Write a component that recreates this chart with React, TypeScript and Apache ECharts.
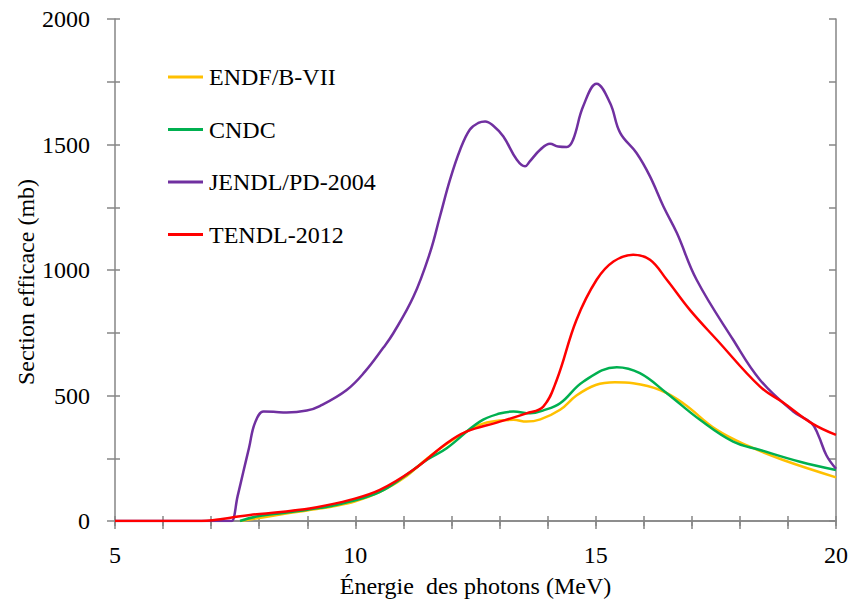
import React, { useEffect, useRef } from "react";
import * as echarts from "echarts";

const seriesNames = ["ENDF/B-VII", "CNDC", "JENDL/PD-2004", "TENDL-2012"];
const seriesColors = ["#FFC000", "#00B050", "#7030A0", "#FF0000"];

const endf: [number, number][] = [
  [7.6, 0], [8, 12], [8.5, 28], [9, 42], [9.5, 57], [10, 78], [10.5, 115], [11, 170],
  [11.5, 250], [12, 320], [12.59, 383], [13.0, 400], [13.29, 403], [13.56, 396], [13.85, 405],
  [14.26, 443], [14.6, 500], [15.0, 542], [15.4, 553], [15.78, 549], [16.34, 522], [16.82, 469],
  [17.52, 363], [18.21, 296], [18.9, 243], [20, 174],
];
const cndc: [number, number][] = [
  [7.6, 0], [8, 20], [8.5, 32], [9, 45], [9.5, 60], [9.89, 77], [10.5, 115], [11, 175],
  [11.5, 245], [11.9, 290], [12.59, 396], [13.0, 428], [13.29, 436], [13.64, 429], [13.9, 440],
  [14.26, 469], [14.74, 555], [15.44, 613], [15.92, 589], [16.48, 509], [17.17, 403],
  [17.86, 316], [18.42, 283], [19.25, 236], [20, 203],
];
const jendl: [number, number][] = [
  [5, 0], [7.38, 0], [7.43, 0], [7.55, 98], [7.67, 196], [7.79, 293], [7.91, 390], [8.09, 436],
  [8.3, 435], [8.57, 432], [8.99, 440], [9.26, 458], [9.82, 522], [10.2, 595], [10.58, 690],
  [10.79, 748], [11.21, 894], [11.55, 1067], [11.76, 1213], [11.97, 1360], [12.18, 1479],
  [12.38, 1559], [12.56, 1586], [12.7, 1592], [12.87, 1575], [13.08, 1532], [13.36, 1439],
  [13.53, 1413], [13.63, 1433], [13.85, 1480], [14.05, 1503], [14.22, 1492], [14.4, 1490],
  [14.53, 1519], [14.74, 1652], [15.02, 1742], [15.3, 1665], [15.51, 1546], [15.85, 1466],
  [16.13, 1373], [16.41, 1253], [16.69, 1147], [17.1, 961], [17.86, 722], [18.42, 562],
  [19.11, 436], [19.49, 390], [19.63, 343], [19.8, 262], [20, 208],
];
const tendl: [number, number][] = [
  [5, 0], [6.8, 0], [7.1, 5], [7.43, 14], [7.81, 24], [8.5, 37], [9.2, 55], [9.89, 84],
  [10.51, 124], [11.2, 203], [11.9, 310], [12.31, 356], [12.94, 392], [13.56, 429],
  [13.91, 456], [14.19, 562], [14.6, 801], [15.02, 961], [15.37, 1034], [15.78, 1061],
  [16.13, 1041], [16.48, 961], [16.96, 841], [17.52, 722], [18.42, 535], [18.9, 472],
  [19.49, 390], [20, 343],
];
const seriesData = [endf, cndc, jendl, tendl];

const xTickLabels = [5, 10, 15, 20];
const yTickLabels = [0, 500, 1000, 1500, 2000];

const FONT = "Liberation Serif, Times New Roman, serif";
const AXIS = "#868686";

export default function App() {
  const ref = useRef<HTMLDivElement>(null);
  useEffect(() => {
    if (!ref.current) return;
    const chart = echarts.init(ref.current, undefined, { renderer: "svg" });
    const base = { type: "value" as const, min: 5, max: 20, interval: 1, gridIndex: 0 };
    const ybase = { type: "value" as const, min: 0, max: 2000, interval: 250, gridIndex: 0 };
    chart.setOption({
      animation: false,
      backgroundColor: "#ffffff",
      grid: { left: 115, right: 14, top: 19, bottom: 78, containLabel: false, outerBoundsMode: "none" },
      legend: {
        orient: "vertical",
        left: 168,
        top: 65,
        padding: 0,
        itemWidth: 35,
        itemHeight: 3,
        itemGap: 28.5,
        icon: "rect",
        data: seriesNames,
        textStyle: { fontFamily: FONT, fontSize: 24, color: "#000", lineHeight: 24, padding: [0, 0, 0, 1] },
      },
      xAxis: [
        {
          ...base,
          position: "bottom",
          axisLine: { show: true, lineStyle: { color: AXIS, width: 1.5 } },
          axisTick: { show: true, inside: false, length: 8, lineStyle: { color: AXIS, width: 1.5 } },
          axisLabel: {
            margin: 22,
            fontFamily: FONT,
            fontSize: 24,
            color: "#000",
            formatter: (v: number) => (xTickLabels.includes(v) ? String(v) : ""),
          },
          splitLine: { show: false },
          name: "Énergie  des photons (MeV)",
          nameLocation: "middle",
          nameGap: 53,
          nameTextStyle: { fontFamily: FONT, fontSize: 24, color: "#000" },
        },
        {
          ...base,
          position: "bottom",
          axisLine: { show: false },
          axisTick: { show: true, inside: true, length: 5, lineStyle: { color: AXIS, width: 1.5 } },
          axisLabel: { show: false },
          splitLine: { show: false },
        },
        {
          ...base,
          position: "top",
          axisLine: { show: true, lineStyle: { color: AXIS, width: 1.5 } },
          axisTick: { show: true, inside: true, length: 5, lineStyle: { color: AXIS, width: 1.5 } },
          axisLabel: { show: false },
          splitLine: { show: false },
        },
      ],
      yAxis: [
        {
          ...ybase,
          position: "left",
          axisLine: { show: true, lineStyle: { color: AXIS, width: 1.5 } },
          axisTick: { show: true, inside: false, length: 8, lineStyle: { color: AXIS, width: 1.5 } },
          axisLabel: {
            margin: 25,
            fontFamily: FONT,
            fontSize: 24,
            color: "#000",
            formatter: (v: number) => (yTickLabels.includes(v) ? String(v) : ""),
          },
          splitLine: { show: false },
        },
        {
          ...ybase,
          position: "left",
          axisLine: { show: false },
          axisTick: { show: true, inside: true, length: 5, lineStyle: { color: AXIS, width: 1.5 } },
          axisLabel: { show: false },
          splitLine: { show: false },
        },
        {
          ...ybase,
          position: "right",
          axisLine: { show: true, lineStyle: { color: AXIS, width: 1.5 } },
          axisTick: { show: true, inside: true, length: 7, lineStyle: { color: AXIS, width: 1.5 } },
          axisLabel: { show: false },
          splitLine: { show: false },
        },
      ],
      graphic: [
        {
          type: "text",
          x: 26,
          y: 282,
          rotation: Math.PI / 2,
          style: {
            text: "Section efficace (mb)",
            fontFamily: FONT,
            fontSize: 24,
            fill: "#000",
            textAlign: "center",
            textVerticalAlign: "middle",
          },
        },
      ],
      series: seriesNames.map((name, i) => ({
        name,
        type: "line",
        xAxisIndex: 0,
        yAxisIndex: 0,
        data: seriesData[i],
        showSymbol: false,
        smooth: 0.4,
        clip: true,
        lineStyle: { color: seriesColors[i], width: 2.5 },
        itemStyle: { color: seriesColors[i] },
        z: 2 + i,
      })),
    });
    return () => chart.dispose();
  }, []);
  return (
    <div
      ref={ref}
      style={{ position: "fixed", left: 0, top: 0, width: 850, height: 599, background: "#fff" }}
    />
  );
}
